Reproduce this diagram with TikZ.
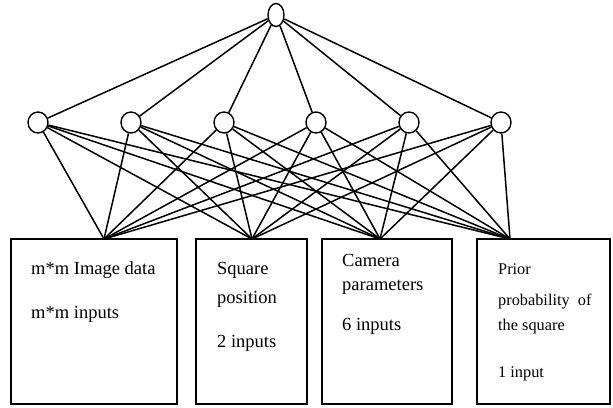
\documentclass[tikz,border=0pt]{standalone}
\usepackage{fontspec}
\setmainfont{Liberation Serif}
\usetikzlibrary{shapes.geometric}
\begin{document}
\begin{tikzpicture}[x=1pt,y=-1pt,
  neuron/.style={draw,ellipse,line width=1.4pt,minimum width=20pt,minimum height=21pt,inner sep=0pt},
  inbox/.style={draw,line width=1.4pt,inner sep=0pt},
  link/.style={line width=1.5pt},
  lbl/.style={anchor=base west,inner sep=0pt,font=\fontsize{18.5}{20}\selectfont},
  lblsmall/.style={anchor=base west,inner sep=0pt,font=\fontsize{16.3}{18}\selectfont}]
\useasboundingbox (0,0) rectangle (613,407);

% output neuron
\node[neuron,minimum width=16pt,minimum height=23pt] (out) at (276,15) {};

% hidden layer
\foreach \i/\x in {1/38,2/131,3/224,4/316,5/409,6/501}
  \node[neuron] (h\i) at (\x,122.5) {};

% input groups
\node[inbox,minimum width=166pt,minimum height=165pt] (b1) at (94,321.5) {};
\node[inbox,minimum width=111pt,minimum height=165pt] (b2) at (251.5,321.5) {};
\node[inbox,minimum width=130pt,minimum height=165pt] (b3) at (387,321.5) {};
\node[inbox,minimum width=133pt,minimum height=165pt] (b4) at (543.5,321.5) {};

% attachment points on the top edges
\coordinate (p1) at (104,239);
\coordinate (p2) at (252,239);
\coordinate (p3) at (380,239);
\coordinate (p4) at (510,239);

% connections
\foreach \i in {1,...,6} {
  \draw[link] (out) -- (h\i);
  \foreach \j in {1,...,4}
    \draw[link] (h\i) -- (p\j);
}

% labels
\node[lbl] (t11) at (31,274) {m*m Image data};
\node[lbl] (t12) at (31,318) {m*m inputs};
\node[lbl] (t21) at (217,274) {Square};
\node[lbl] (t22) at (217,303) {position};
\node[lbl] (t23) at (217,347) {2 inputs};
\node[lbl] (t31) at (342,266) {Camera};
\node[lbl] (t32) at (342,290) {parameters};
\node[lbl] (t33) at (342,330) {6 inputs};
\node[lblsmall] (t41) at (498,274) {Prior};
\node[lblsmall] (t42) at (498,305) {probability\ \ of};
\node[lblsmall] (t43) at (498,330) {the square};
\node[lblsmall] (t44) at (498,377) {1 input};
\end{tikzpicture}
\end{document}
